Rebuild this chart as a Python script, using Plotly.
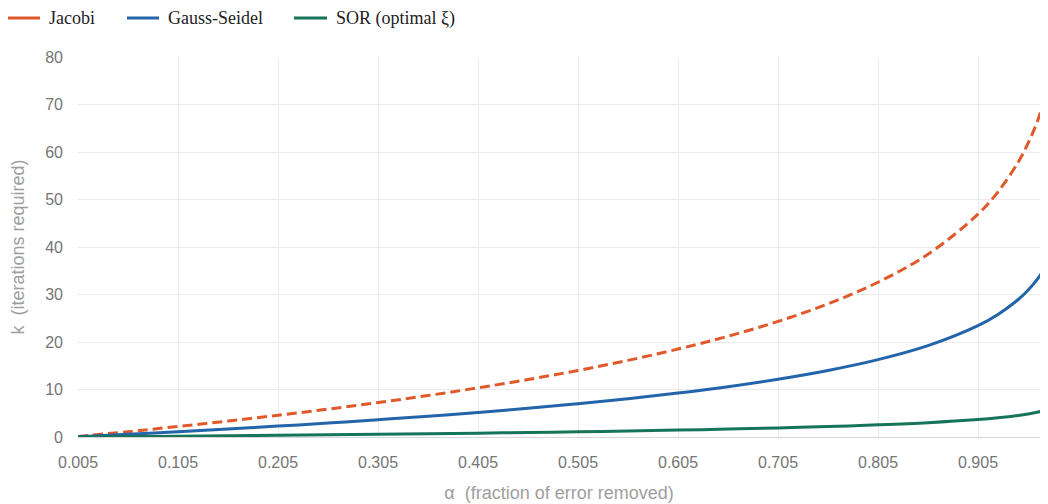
import plotly.graph_objects as go

alpha = [0.005, 0.055, 0.105, 0.155, 0.205, 0.255, 0.305, 0.355, 0.405, 0.455,
         0.505, 0.555, 0.605, 0.655, 0.705, 0.755, 0.805, 0.855, 0.905, 0.925,
         0.945, 0.955, 0.965, 0.975]
jacobi = [0.10, 1.13, 2.21, 3.36, 4.57, 5.87, 7.25, 8.74, 10.35, 12.10,
          14.01, 16.13, 18.51, 21.21, 24.33, 28.03, 32.58, 38.48, 46.91, 51.62,
          57.80, 61.80, 66.81, 73.51]
gauss_seidel = [0.05, 0.56, 1.11, 1.68, 2.29, 2.93, 3.63, 4.37, 5.17, 6.05,
                7.01, 8.07, 9.26, 10.60, 12.16, 14.01, 16.29, 19.24, 23.45, 25.81,
                28.90, 30.90, 33.40, 36.76]
sor = [0.01, 0.09, 0.17, 0.26, 0.36, 0.46, 0.57, 0.69, 0.81, 0.95,
       1.10, 1.27, 1.45, 1.67, 1.91, 2.20, 2.56, 3.02, 3.68, 4.05,
       4.54, 4.85, 5.25, 5.77]

x_ticks = [0.005, 0.105, 0.205, 0.305, 0.405, 0.505, 0.605, 0.705, 0.805, 0.905]
x_tick_labels = ["0.005", "0.105", "0.205", "0.305", "0.405", "0.505", "0.605", "0.705", "0.805", "0.905"]
y_ticks = [0, 10, 20, 30, 40, 50, 60, 70, 80]
x_range = [0.005, 0.967]

series_names = ["Jacobi", "Gauss-Seidel", "SOR (optimal ξ)"]
series_colors = ["#E0592A", "#2364AA", "#167558"]

# page body has an 8px margin, so the figure is drawn 8px in from the top-left
OFF = 8
W, H = 1048 - 2 * OFF, 504 - OFF
ML, MR, MT = 78 - OFF, 0, 57 - OFF
MB = H - (437 - OFF)
PW, PH = W - ML - MR, H - MT - MB

def px_x(p):
    return (p - OFF - ML) / PW

def px_y(p):
    return (H - MB - (p - OFF)) / PH

fig = go.Figure()
fig.add_trace(go.Scatter(x=alpha, y=jacobi, name=series_names[0], mode="lines", showlegend=False,
                         line=dict(color=series_colors[0], width=3, dash="10px,5px", shape="spline")))
fig.add_trace(go.Scatter(x=alpha, y=gauss_seidel, name=series_names[1], mode="lines", showlegend=False,
                         line=dict(color=series_colors[1], width=3, shape="spline")))
fig.add_trace(go.Scatter(x=alpha, y=sor, name=series_names[2], mode="lines", showlegend=False,
                         line=dict(color=series_colors[2], width=3, shape="spline")))

# manual legend (solid swatches, like the reference)
legend_items = [(8, 40, 49), (127, 159, 168), (294, 327, 336)]
shapes, annotations = [], []
for (x0, x1, xt), name, col in zip(legend_items, series_names, series_colors):
    shapes.append(dict(type="line", xref="paper", yref="paper",
                       x0=px_x(x0), x1=px_x(x1), y0=px_y(18), y1=px_y(18),
                       line=dict(color=col, width=3)))
    annotations.append(dict(xref="paper", yref="paper", x=px_x(xt - 2), y=px_y(18),
                            xanchor="left", yanchor="middle", showarrow=False, text=name,
                            font=dict(family="Liberation Serif, Times New Roman, serif",
                                      size=18, color="#222222")))

fig.update_layout(
    width=W, height=H,
    margin=dict(l=ML, r=MR, t=MT, b=MB),
    paper_bgcolor="white", plot_bgcolor="white",
    showlegend=False,
    shapes=shapes, annotations=annotations,
    xaxis=dict(range=x_range, tickvals=x_ticks, ticktext=x_tick_labels,
               automargin=False,
               showgrid=True, gridcolor="#ebebeb", zeroline=False, showline=False,
               ticks="", ticklabelstandoff=14,
               tickfont=dict(family="Liberation Sans, Arial, sans-serif", size=16, color="#757575"),
               title=dict(text="α  (fraction of error removed)", standoff=16,
                          font=dict(family="Liberation Sans, Arial, sans-serif", size=18, color="#9e9e9e"))),
    yaxis=dict(range=[0, 80], tickvals=y_ticks, automargin=False,
               showgrid=True, gridcolor="#ebebeb", zeroline=True, zerolinecolor="#d6d6d6",
               zerolinewidth=1, showline=False, ticks="", ticklabelstandoff=14,
               tickfont=dict(family="Liberation Sans, Arial, sans-serif", size=16, color="#757575"),
               title=dict(text="k  (iterations required)", standoff=24,
                          font=dict(family="Liberation Sans, Arial, sans-serif", size=18, color="#9e9e9e"))),
)

fig.write_html("out.html")
